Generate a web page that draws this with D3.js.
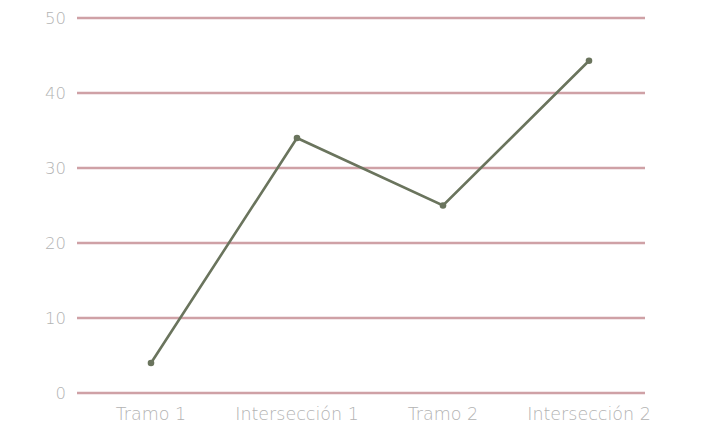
<!DOCTYPE html>
<html lang="es">
<head>
    <meta charset="UTF-8">
    <title>Chart</title>
    <style>
        body { margin: 0; background: #fff; }
        text { font-family: "DejaVu Sans", sans-serif; font-weight: 200; }
    </style>
</head>
<body>
    <div id="chartContainer"></div>
    <script src="https://d3js.org/d3.v7.min.js"></script>
    <script>
        // Data
        const categories = ["Tramo 1", "Intersección 1", "Tramo 2", "Intersección 2"];
        const values = [4, 34, 25, 44.3];
        const yTicks = [0, 10, 20, 30, 40, 50];

        const width = 711, height = 431;
        const margin = {top: 18, right: 66, bottom: 38, left: 77};
        const innerW = width - margin.left - margin.right;
        const innerH = height - margin.top - margin.bottom;

        const svg = d3.select("#chartContainer")
            .append("svg")
                .attr("width", width)
                .attr("height", height);

        const g = svg.append("g")
            .attr("transform", "translate(" + margin.left + "," + margin.top + ")");

        const y = d3.scaleLinear().domain([0, 50]).range([innerH, 0]);

        // points sit a bit off the gridline span, like the original
        const x = d3.scalePoint()
            .domain(categories)
            .range([74, 512]);

        // gridlines
        g.selectAll(".grid")
            .data(yTicks)
            .join("line")
                .attr("x1", 0)
                .attr("x2", innerW)
                .attr("y1", d => y(d))
                .attr("y2", d => y(d))
                .attr("stroke", "#cfa1a6")
                .attr("stroke-width", 2.5);

        // y axis labels
        g.selectAll(".ylab")
            .data(yTicks)
            .join("text")
                .attr("x", -11)
                .attr("y", d => y(d))
                .attr("dy", "0.35em")
                .attr("text-anchor", "end")
                .attr("fill", "#b3b3b3")
                .style("font-size", "16.5px")
                .text(d => d);

        // x axis labels
        g.selectAll(".xlab")
            .data(categories)
            .join("text")
                .attr("x", d => x(d))
                .attr("y", innerH + 21)
                .attr("dy", "0.35em")
                .attr("text-anchor", "middle")
                .attr("fill", "#b3b3b3")
                .style("font-size", "17.5px")
                .text(d => d);

        const pts = categories.map((c, i) => [c, values[i]]);

        g.append("path")
            .datum(pts)
            .attr("fill", "none")
            .attr("stroke", "#6a745d")
            .attr("stroke-width", 2.6)
            .attr("d", d3.line().x(d => x(d[0])).y(d => y(d[1])));

        g.selectAll(".dot")
            .data(pts)
            .join("circle")
                .attr("cx", d => x(d[0]))
                .attr("cy", d => y(d[1]))
                .attr("r", 3.3)
                .attr("fill", "#6a745d");
    </script>
</body>
</html>
